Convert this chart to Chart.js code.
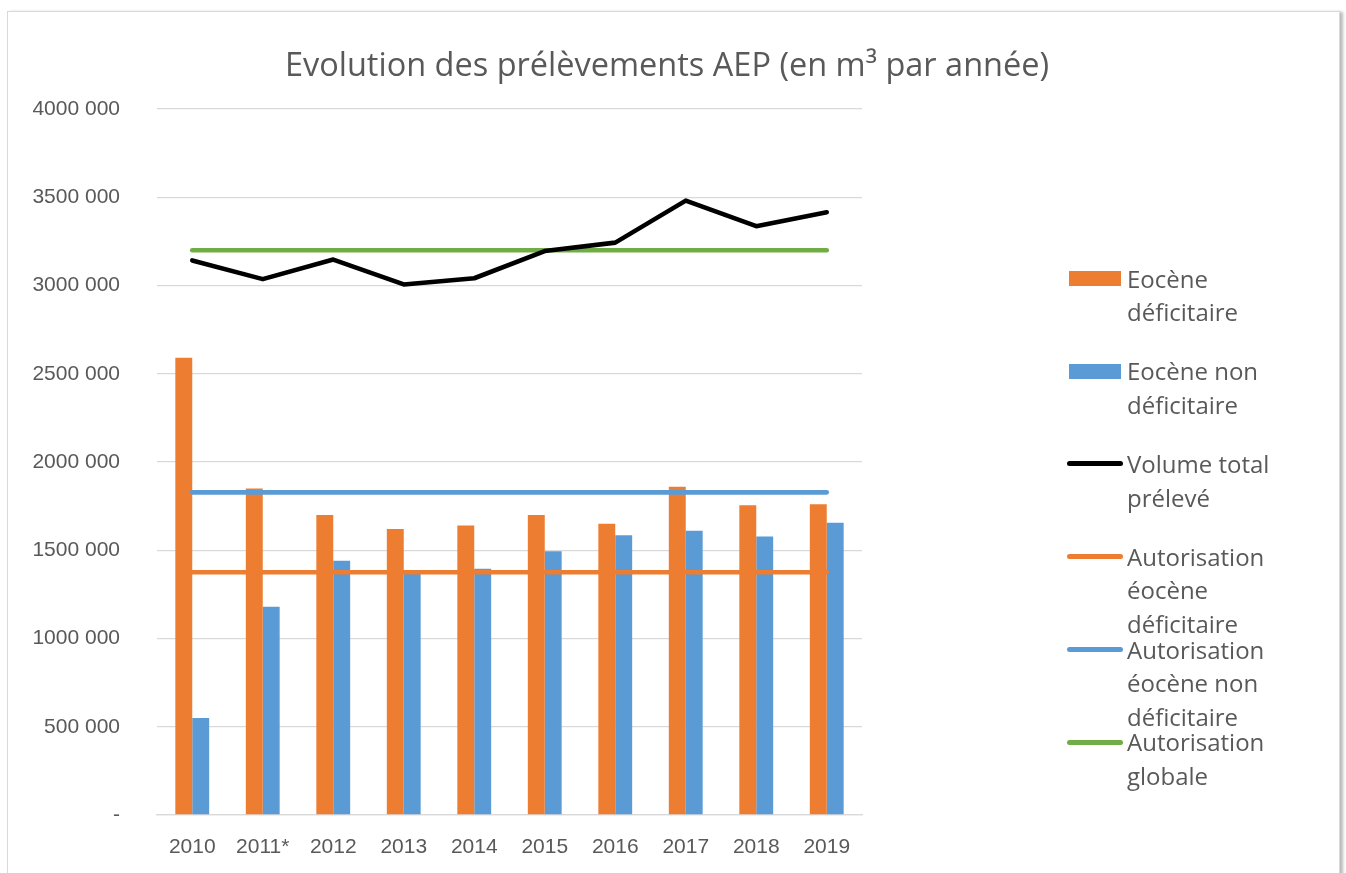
<!DOCTYPE html>
<html>
<head>
<meta charset="utf-8">
<script src="https://cdn.jsdelivr.net/npm/chart.js@4/dist/chart.umd.min.js"></script>
<style>
  html, body { margin: 0; padding: 0; background: #ffffff; }
  #wrap { position: relative; width: 1346px; height: 873px; overflow: hidden; }
  #frame { position: absolute; left: 7px; top: 11px; width: 1331px; height: 900px;
           border: 1px solid #d9d9d9; box-shadow: 3px 1px 3px rgba(0,0,0,0.28); background: #fff; }
  #chart { position: absolute; left: 0; top: 0; }
  #legend { position: absolute; left: 0; top: 0; width: 1346px; height: 873px; pointer-events: none;
            font-family: "Open Sans", sans-serif; font-size: 24px; color: #595959; }
  .item { position: absolute; left: 1067px; width: 240px; }
  .sym { position: absolute; }
  .txt { position: absolute; left: 60px; top: 0; width: 172px; line-height: 33.5px; }
</style>
</head>
<body>
<div id="wrap">
  <div id="frame"></div>
  <canvas id="chart" width="1346" height="873"></canvas>
  <div id="legend"></div>
</div>
<script>
// ---- Data ----
const categories = ['2010', '2011*', '2012', '2013', '2014', '2015', '2016', '2017', '2018', '2019'];
const eoceneDeficitaire    = [2590000, 1850000, 1700000, 1620000, 1640000, 1700000, 1650000, 1860000, 1755000, 1760000];
const eoceneNonDeficitaire = [550000, 1180000, 1440000, 1365000, 1395000, 1495000, 1585000, 1610000, 1578000, 1656000];
const volumeTotal          = [3142000, 3036000, 3147000, 3006000, 3041000, 3195000, 3243000, 3481000, 3336000, 3415000];
const autorisationDeficitaire    = [1375000, 1375000, 1375000, 1375000, 1375000, 1375000, 1375000, 1375000, 1375000, 1375000];
const autorisationNonDeficitaire = [1828000, 1828000, 1828000, 1828000, 1828000, 1828000, 1828000, 1828000, 1828000, 1828000];
const autorisationGlobale        = [3200000, 3200000, 3200000, 3200000, 3200000, 3200000, 3200000, 3200000, 3200000, 3200000];
const yTickLabels = ['-', '500 000', '1000 000', '1500 000', '2000 000', '2500 000', '3000 000', '3500 000', '4000 000'];
const titleText = 'Evolution des prélèvements AEP (en m³ par année)';

const ORANGE = '#ED7D31', BLUE = '#5B9BD5', GREEN = '#70AD47', BLACK = '#000000';
const TEXT = '#595959';

const lineDs = (label, data, color, order) => ({
  type: 'line', label, data, borderColor: color, backgroundColor: color,
  borderWidth: 4.6, pointRadius: 0, tension: 0, borderCapStyle: 'round', borderJoinStyle: 'round',
  order, yAxisID: 'y'
});

const chart = new Chart(document.getElementById('chart'), {
  type: 'bar',
  data: {
    labels: categories,
    datasets: [
      { type: 'bar', label: 'Eocène déficitaire', data: eoceneDeficitaire, backgroundColor: ORANGE,
        categoryPercentage: 0.48, barPercentage: 1.0, order: 10, yAxisID: 'y' },
      { type: 'bar', label: 'Eocène non déficitaire', data: eoceneNonDeficitaire, backgroundColor: BLUE,
        categoryPercentage: 0.48, barPercentage: 1.0, order: 10, yAxisID: 'y' },
      lineDs('Volume total prélevé', volumeTotal, BLACK, 1),
      lineDs('Autorisation éocène déficitaire', autorisationDeficitaire, ORANGE, 3),
      lineDs('Autorisation éocène non déficitaire', autorisationNonDeficitaire, BLUE, 3),
      lineDs('Autorisation globale', autorisationGlobale, GREEN, 2)
    ]
  },
  options: {
    responsive: false,
    animation: false,
    events: [],
    layout: { padding: { left: 0, right: 12, top: 0, bottom: 0 } },
    plugins: {
      legend: { display: false },
      tooltip: { enabled: false },
      title: {
        display: true, text: titleText, color: TEXT,
        font: { family: '"Open Sans", sans-serif', size: 32.5, weight: 'normal', lineHeight: 1.2 },
        padding: { top: 47.5, bottom: 22.5 }
      }
    },
    scales: {
      x: {
        offset: true,
        grid: { display: false, drawTicks: false },
        border: { display: true, color: '#D9D9D9', width: 1.3 },
        ticks: { color: TEXT, font: { family: '"Liberation Sans", Arial, sans-serif', size: 21 }, padding: 20,
                 maxRotation: 0, autoSkip: false },
        afterFit: s => { s.height = 58; }
      },
      y: {
        position: 'left',
        min: 0, max: 4000000,
        grid: { color: '#D9D9D9', lineWidth: 1.3, drawTicks: false },
        border: { display: false },
        ticks: {
          stepSize: 500000, color: TEXT, padding: 37,
          font: { family: '"Liberation Sans", Arial, sans-serif', size: 21 },
          callback: (v, i) => yTickLabels[i]
        },
        afterFit: s => { s.width = 157; }
      },
      legendSpace: {
        type: 'linear', position: 'right', display: true,
        grid: { display: false, drawTicks: false }, border: { display: false },
        ticks: { display: false },
        afterFit: s => { s.width = 472; }
      }
    }
  }
});

// ---- HTML legend built from the chart's datasets ----
const legendEl = document.getElementById('legend');
const firstCenter = 278.5, spacing = 92.7, lh = 33.5;
chart.data.datasets.forEach((ds, i) => {
  const item = document.createElement('div');
  item.className = 'item';
  item.style.top = (firstCenter + i * spacing - lh / 2) + 'px';
  const sym = document.createElement('div');
  sym.className = 'sym';
  if (ds.type === 'bar') {
    sym.style.left = '2px'; sym.style.width = '52px'; sym.style.height = '15px';
    sym.style.top = (lh / 2 - 7.5) + 'px'; sym.style.background = ds.backgroundColor;
  } else {
    sym.style.left = '0px'; sym.style.width = '56px'; sym.style.height = '5px';
    sym.style.top = (lh / 2 - 2.5) + 'px'; sym.style.background = ds.borderColor;
    sym.style.borderRadius = '3px';
  }
  const txt = document.createElement('div');
  txt.className = 'txt';
  txt.textContent = ds.label;
  item.appendChild(sym);
  item.appendChild(txt);
  legendEl.appendChild(item);
});
</script>
</body>
</html>
